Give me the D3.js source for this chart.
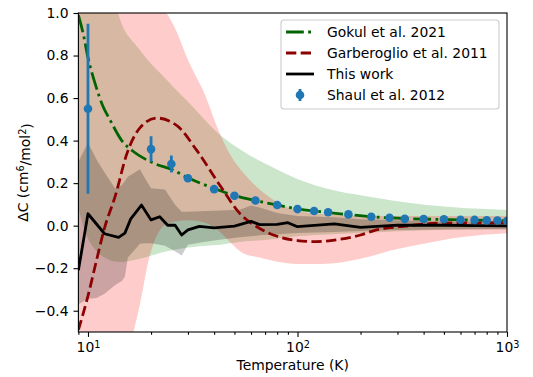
<!DOCTYPE html>
<html lang="en">
<head>
<meta charset="utf-8">
<title>Delta C vs temperature</title>
<script src="https://d3js.org/d3.v7.min.js"></script>
<style>
  body { margin: 0; background: #fff; }
  svg text { font-family: "DejaVu Sans", sans-serif; font-size: 13.9px; fill: #000; }
</style>
</head>
<body>
<svg id="chart" width="533" height="377"></svg>
<script>
// Gokul et al. 2021: curve and uncertainty band
const gokulT = [9, 9.5, 10, 10.8, 11.8, 12.7, 14.5, 16.4, 19, 21, 25, 30, 40, 50, 63, 80, 100, 120, 140, 175, 220, 300, 400, 500, 700, 1000];
const gokulC = [0.99, 0.90, 0.79, 0.67, 0.56, 0.50, 0.40, 0.35, 0.31, 0.29, 0.265, 0.225, 0.175, 0.142, 0.118, 0.097, 0.079, 0.069, 0.062, 0.052, 0.043, 0.035, 0.031, 0.029, 0.026, 0.023];
const gokulBandT = [9, 10, 11, 12, 13.9, 17.7, 23.8, 31.7, 42.7, 55, 74, 100, 147, 200, 416, 1000];
const gokulHi = [2.4, 1.9, 1.55, 1.3, 1.0, 0.826, 0.685, 0.558, 0.426, 0.35, 0.28, 0.22, 0.168, 0.143, 0.097, 0.074];
const gokulLo = [0.08, -0.06, -0.12, -0.15, -0.17, -0.155, -0.12, -0.1, -0.09, -0.075, -0.065, -0.05, -0.04, -0.035, -0.022, -0.015];

// Garberoglio et al. 2011: curve and band
const garbT = [9, 10, 11, 12, 13.5, 15.35, 17.7, 21.3, 26.6, 33, 42.6, 53, 68, 80, 100, 123, 159, 200, 238, 308, 494, 1000];
const garbC = [-0.49, -0.33, -0.16, -0.01, 0.14, 0.34, 0.46, 0.506, 0.47, 0.355, 0.19, 0.058, -0.02, -0.05, -0.07, -0.075, -0.064, -0.044, -0.02, -0.005, 0.012, 0.014];
const garbBandT = [9, 12, 16.5, 17.7, 19.5, 21, 23, 26, 30, 36, 42.7, 48, 55, 66, 80, 100, 130, 200, 300, 400, 600, 1000];
const garbHi = [2.2, 1.7, 1.3, 1.2, 1.12, 1.07, 1.02, 0.93, 0.78, 0.62, 0.43, 0.33, 0.25, 0.17, 0.11, 0.07, 0.055, 0.047, 0.045, 0.045, 0.045, 0.045];
const garbLo = [-1.6, -1.0, -0.5, -0.37, -0.16, -0.06, 0.0, 0.02, 0.025, 0.015, -0.03, -0.08, -0.13, -0.15, -0.17, -0.18, -0.18, -0.155, -0.11, -0.085, -0.055, -0.036];

// This work: curve and band
const thisT = [9, 10, 12, 14, 15, 16, 18, 20, 22, 24, 26, 28, 30, 34, 40, 50, 60, 66, 80, 90, 100, 150, 200, 300, 500, 700, 1000];
const thisC = [-0.21, 0.056, -0.038, -0.055, -0.035, 0.032, 0.097, 0.027, 0.042, 0.002, 0.003, -0.044, -0.02, -0.003, -0.01, -0.002, 0.02, 0.005, 0.006, 0.014, -0.005, 0.008, -0.008, 0.003, 0.002, 0.0, -0.001];
const thisBandT = [9, 10, 11, 12, 13.45, 14.5, 15, 15.5, 17.7, 18.7, 20, 23.3, 26, 28, 30, 34, 40, 53, 60, 66, 80, 100, 150, 200, 300, 500, 1000];
const thisHi = [0.30, 0.39, 0.31, 0.25, 0.176, 0.19, 0.21, 0.23, 0.265, 0.223, 0.176, 0.17, 0.10, 0.066, 0.065, 0.068, 0.07, 0.075, 0.095, 0.085, 0.06, 0.045, 0.04, 0.03, 0.025, 0.02, 0.018];
const thisLo = [-0.37, -0.345, -0.34, -0.32, -0.28, -0.26, -0.24, -0.15, -0.085, -0.083, -0.083, -0.095, -0.12, -0.14, -0.09, -0.08, -0.07, -0.055, -0.05, -0.045, -0.04, -0.035, -0.03, -0.025, -0.02, -0.018, -0.018];

// Shaul et al. 2012: points with error bars
const shaulT = [10, 20, 25, 30, 40, 50, 63, 80, 100, 120, 140, 175, 225, 275, 325, 400, 500, 600, 700, 800, 900, 1000];
const shaulC = [0.55, 0.36, 0.29, 0.223, 0.172, 0.141, 0.118, 0.097, 0.078, 0.069, 0.063, 0.053, 0.042, 0.037, 0.032, 0.031, 0.030, 0.028, 0.027, 0.025, 0.024, 0.022];
const shaulErr = [0.40, 0.06, 0.04, 0.012, 0.006, 0.005, 0.004, 0.004, 0.003, 0.003, 0.003, 0.003, 0.002, 0.002, 0.002, 0.002, 0.002, 0.002, 0.002, 0.002, 0.002, 0.002];

const yTicks = [-0.4, -0.2, 0.0, 0.2, 0.4, 0.6, 0.8, 1.0];
const xMajor = [10, 100, 1000];
const legendLabels = ["Gokul et al. 2021", "Garberoglio et al. 2011", "This work", "Shaul et al. 2012"];

const svg = d3.select("#chart");
const pLeft = 78.4, pRight = 507, pTop = 13, pBottom = 332;

const x = d3.scaleLog().domain([9, 1000]).range([pLeft, pRight]);
const y = d3.scaleLinear().domain([-0.5, 1.0]).range([pBottom, pTop]);

svg.append("defs").append("clipPath").attr("id", "plotclip")
  .append("rect").attr("x", pLeft).attr("y", pTop)
  .attr("width", pRight - pLeft).attr("height", pBottom - pTop);

const plot = svg.append("g").attr("clip-path", "url(#plotclip)");

function band(ts, lo, hi, curve) {
  return d3.area()
    .x((d, i) => x(ts[i]))
    .y0((d, i) => y(lo[i]))
    .y1((d, i) => y(hi[i]))
    .curve(curve)(ts);
}
function line(ts, vs, curve) {
  return d3.line()
    .x((d, i) => x(ts[i]))
    .y((d, i) => y(vs[i]))
    .curve(curve)(ts);
}

// bands
plot.append("path").attr("d", band(gokulBandT, gokulLo, gokulHi, d3.curveMonotoneX))
  .attr("fill", "green").attr("fill-opacity", 0.2);
plot.append("path").attr("d", band(garbBandT, garbLo, garbHi, d3.curveMonotoneX))
  .attr("fill", "red").attr("fill-opacity", 0.2);
plot.append("path").attr("d", band(thisBandT, thisLo, thisHi, d3.curveLinear))
  .attr("fill", "black").attr("fill-opacity", 0.2);

// lines
const lw = 2.78;
plot.append("path").attr("d", line(gokulT, gokulC, d3.curveMonotoneX))
  .attr("fill", "none").attr("stroke", "darkgreen").attr("stroke-width", lw)
  .attr("stroke-dasharray", "17.8,4.4,2.8,4.4");
plot.append("path").attr("d", line(garbT, garbC, d3.curveMonotoneX))
  .attr("fill", "none").attr("stroke", "darkred").attr("stroke-width", lw)
  .attr("stroke-dasharray", "10.3,4.4");
plot.append("path").attr("d", line(thisT, thisC, d3.curveLinear))
  .attr("fill", "none").attr("stroke", "black").attr("stroke-width", lw)
  .attr("stroke-linejoin", "round");

// error bars
const blue = "#1f77b4";
plot.selectAll("line.err").data(shaulT).join("line").attr("class", "err")
  .attr("x1", d => x(d)).attr("x2", d => x(d))
  .attr("y1", (d, i) => y(shaulC[i] - shaulErr[i]))
  .attr("y2", (d, i) => y(shaulC[i] + shaulErr[i]))
  .attr("stroke", blue).attr("stroke-width", lw);
plot.selectAll("circle.pt").data(shaulT).join("circle").attr("class", "pt")
  .attr("cx", d => x(d)).attr("cy", (d, i) => y(shaulC[i]))
  .attr("r", 4.3).attr("fill", blue);

// axes
const xAxis = svg.append("g").attr("transform", `translate(0,${pBottom})`)
  .call(d3.axisBottom(x).tickValues(xMajor).tickSize(4.9).tickPadding(4.9));
xAxis.select(".domain").remove();
xAxis.selectAll(".tick text")
  .attr("y", 20).attr("dy", 0)
  .text("10")
  .append("tspan").attr("dy", "-0.45em").style("font-size", "9.7px")
  .text(d => Math.round(Math.log10(d)));

const xMinor = [];
[1, 10, 100].forEach(b => d3.range(2, 10).forEach(k => { if (b * k >= 9 && b * k < 1000) xMinor.push(b * k); }));
const xMin = svg.append("g").attr("transform", `translate(0,${pBottom})`)
  .call(d3.axisBottom(x).tickValues(xMinor).tickSize(2.8).tickFormat(""));
xMin.select(".domain").remove();

const yAxis = svg.append("g").attr("transform", `translate(${pLeft},0)`)
  .call(d3.axisLeft(y).tickValues(yTicks).tickSize(4.9).tickPadding(4.9).tickFormat(d3.format(".1f")));
yAxis.select(".domain").remove();

svg.selectAll(".tick line").attr("stroke", "#000").attr("stroke-width", 1.1);
svg.selectAll(".tick text").style("font-size", "13.9px").attr("font-family", null);

svg.append("rect").attr("x", pLeft).attr("y", pTop)
  .attr("width", pRight - pLeft).attr("height", pBottom - pTop)
  .attr("fill", "none").attr("stroke", "#000").attr("stroke-width", 1.1);

// axis labels
svg.append("text").attr("x", (pLeft + pRight) / 2).attr("y", 370)
  .attr("text-anchor", "middle").text("Temperature (K)");
const yl = svg.append("text").attr("transform", `translate(28,${(pTop + pBottom) / 2}) rotate(-90)`)
  .attr("text-anchor", "middle");
yl.append("tspan").text("ΔC (cm");
yl.append("tspan").attr("dy", "-0.45em").style("font-size", "9.7px").text("6");
yl.append("tspan").attr("dy", "0.45em").text("/mol");
yl.append("tspan").attr("dy", "-0.45em").style("font-size", "9.7px").text("2");
yl.append("tspan").attr("dy", "0.45em").text(")");

// legend
const lg = svg.append("g");
lg.append("rect").attr("x", 281).attr("y", 20).attr("width", 218).attr("height", 89)
  .attr("rx", 3).attr("fill", "#fff").attr("fill-opacity", 0.8)
  .attr("stroke", "#cccccc").attr("stroke-width", 1.1);
const styles = [
  { color: "darkgreen", dash: "17.8,4.4,2.8,4.4" },
  { color: "darkred", dash: "10.3,4.4" },
  { color: "black", dash: null },
  { color: blue, dash: null, err: true }
];
legendLabels.forEach((lab, i) => {
  const cy = 32 + 21 * i;
  const s = styles[i];
  if (s.err) {
    lg.append("line").attr("x1", 300).attr("x2", 300).attr("y1", cy - 6).attr("y2", cy + 6)
      .attr("stroke", blue).attr("stroke-width", lw);
    lg.append("circle").attr("cx", 300).attr("cy", cy).attr("r", 4.3).attr("fill", blue);
  } else {
    lg.append("line").attr("x1", 286).attr("x2", 314).attr("y1", cy).attr("y2", cy)
      .attr("stroke", s.color).attr("stroke-width", lw)
      .attr("stroke-dasharray", s.dash);
  }
  lg.append("text").attr("x", 327).attr("y", cy).attr("dy", "0.36em").text(lab);
});
</script>
</body>
</html>
